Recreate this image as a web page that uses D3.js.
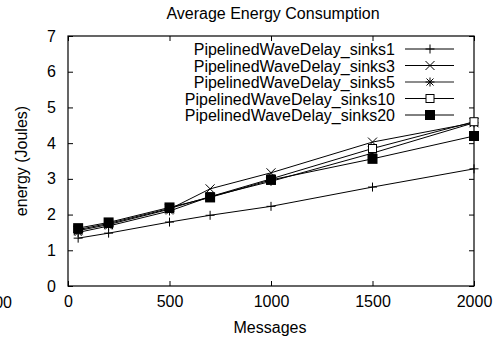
<!DOCTYPE html>
<html>
<head>
<meta charset="utf-8">
<script src="https://cdn.jsdelivr.net/npm/d3@7"></script>
<style>
  body { margin: 0; background: #fff; }
  text { font-family: "Liberation Sans", Arial, sans-serif; fill: #000; }
</style>
</head>
<body>
<svg id="chart" width="496" height="341"></svg>
<script>
var width = 496;
var height = 341;

// data
var messages = [50, 200, 500, 700, 1000, 1500, 2000];
var sinks1  = [1.34, 1.48, 1.79, 1.98, 2.23, 2.77, 3.28];
var sinks3  = [1.55, 1.72, 2.15, 2.72, 3.17, 4.03, 4.57];
var sinks5  = [1.50, 1.68, 2.10, 2.50, 2.93, 3.72, 4.57];
var sinks10 = [1.58, 1.75, 2.17, 2.50, 3.00, 3.85, 4.60];
var sinks20 = [1.62, 1.78, 2.20, 2.48, 2.97, 3.56, 4.20];

var seriesNames = ["PipelinedWaveDelay_sinks1", "PipelinedWaveDelay_sinks3",
    "PipelinedWaveDelay_sinks5", "PipelinedWaveDelay_sinks10", "PipelinedWaveDelay_sinks20"];
var seriesValues = [sinks1, sinks3, sinks5, sinks10, sinks20];
var markerTypes = ["plus", "cross", "star", "box", "fillbox"];

var xTicks = [0, 500, 1000, 1500, 2000];
var yTicks = [0, 1, 2, 3, 4, 5, 6, 7];

var margin = {left: 68, right: 22, top: 36, bottom: 55};
var fs = 16;

const svg = d3.select("#chart");

var x = d3.scaleLinear().domain([0, 2000]).range([margin.left, width - margin.right]);
var y = d3.scaleLinear().domain([0, 7]).range([height - margin.bottom, margin.top]);

// ticks on all four sides, pointing inward (gnuplot style)
svg.append("g")
    .attr("transform", "translate(0," + y(0) + ")")
    .call(d3.axisBottom(x).tickValues(xTicks).tickSize(-5).tickPadding(10).tickFormat(d3.format("d")))
    .call(g => g.select(".domain").remove())
    .selectAll("text").attr("font-size", fs);
svg.append("g")
    .attr("transform", "translate(0," + y(7) + ")")
    .call(d3.axisTop(x).tickValues(xTicks).tickSize(-5).tickFormat(""))
    .call(g => g.select(".domain").remove());
svg.append("g")
    .attr("transform", "translate(" + x(0) + ",0)")
    .call(d3.axisLeft(y).tickValues(yTicks).tickSize(-5).tickPadding(12).tickFormat(d3.format("d")))
    .call(g => g.select(".domain").remove())
    .selectAll("text").attr("font-size", fs);
svg.append("g")
    .attr("transform", "translate(" + x(2000) + ",0)")
    .call(d3.axisRight(y).tickValues(yTicks).tickSize(-5).tickFormat(""))
    .call(g => g.select(".domain").remove());

svg.selectAll(".tick line").attr("stroke", "#000");

// frame
svg.append("rect")
    .attr("x", x(0)).attr("y", y(7))
    .attr("width", x(2000) - x(0)).attr("height", y(0) - y(7))
    .attr("fill", "none").attr("stroke", "#000").attr("stroke-width", 1.2);

// labels
svg.append("text").attr("x", 273).attr("y", 19)
    .attr("text-anchor", "middle").attr("font-size", fs)
    .text("Average Energy Consumption");
svg.append("text").attr("x", 270).attr("y", 333)
    .attr("text-anchor", "middle").attr("font-size", fs)
    .text("Messages");
svg.append("text")
    .attr("transform", "translate(27," + ((y(0) + y(7)) / 2) + ") rotate(-90)")
    .attr("text-anchor", "middle").attr("font-size", fs)
    .text("energy (Joules)");
// clipped tick label from a neighbouring plot
svg.append("text").attr("x", 12).attr("y", 308)
    .attr("text-anchor", "end").attr("font-size", fs).text("2500");

function drawMarker(g, type, cx, cy) {
    var s = 4.5;
    if (type == "plus" || type == "star") {
        g.append("path").attr("d", "M" + (cx - s) + "," + cy + "H" + (cx + s) + "M" + cx + "," + (cy - s) + "V" + (cy + s))
            .attr("stroke", "#000").attr("fill", "none");
    }
    if (type == "cross" || type == "star") {
        var c = type == "star" ? 3.5 : 4.5;
        g.append("path").attr("d", "M" + (cx - c) + "," + (cy - c) + "L" + (cx + c) + "," + (cy + c) +
            "M" + (cx - c) + "," + (cy + c) + "L" + (cx + c) + "," + (cy - c))
            .attr("stroke", "#000").attr("fill", "none");
    }
    if (type == "box") {
        g.append("rect").attr("x", cx - 4).attr("y", cy - 4).attr("width", 8).attr("height", 8)
            .attr("fill", "#fff").attr("stroke", "#000");
    }
    if (type == "fillbox") {
        g.append("rect").attr("x", cx - 5).attr("y", cy - 5).attr("width", 10).attr("height", 10)
            .attr("fill", "#000");
    }
}

var line = d3.line()
    .x(function(d, i) { return x(messages[i]); })
    .y(function(d) { return y(d); });

var plot = svg.append("g");
seriesValues.forEach(function(vals, k) {
    plot.append("path").datum(vals)
        .attr("d", line)
        .attr("fill", "none").attr("stroke", "#000").attr("stroke-width", 1);
});
seriesValues.forEach(function(vals, k) {
    var g = plot.append("g");
    vals.forEach(function(v, i) { drawMarker(g, markerTypes[k], x(messages[i]), y(v)); });
});

// legend
var legend = svg.append("g");
seriesNames.forEach(function(name, k) {
    var ly = 49 + k * 16.5;
    legend.append("text").attr("x", 395).attr("y", ly + 6)
        .attr("text-anchor", "end").attr("font-size", fs).text(name);
    legend.append("line").attr("x1", 405).attr("x2", 454).attr("y1", ly).attr("y2", ly)
        .attr("stroke", k == 2 ? "#666" : "#000").attr("stroke-width", k == 2 ? 1.6 : 1);
    drawMarker(legend, markerTypes[k], 430, ly);
});
</script>
</body>
</html>
